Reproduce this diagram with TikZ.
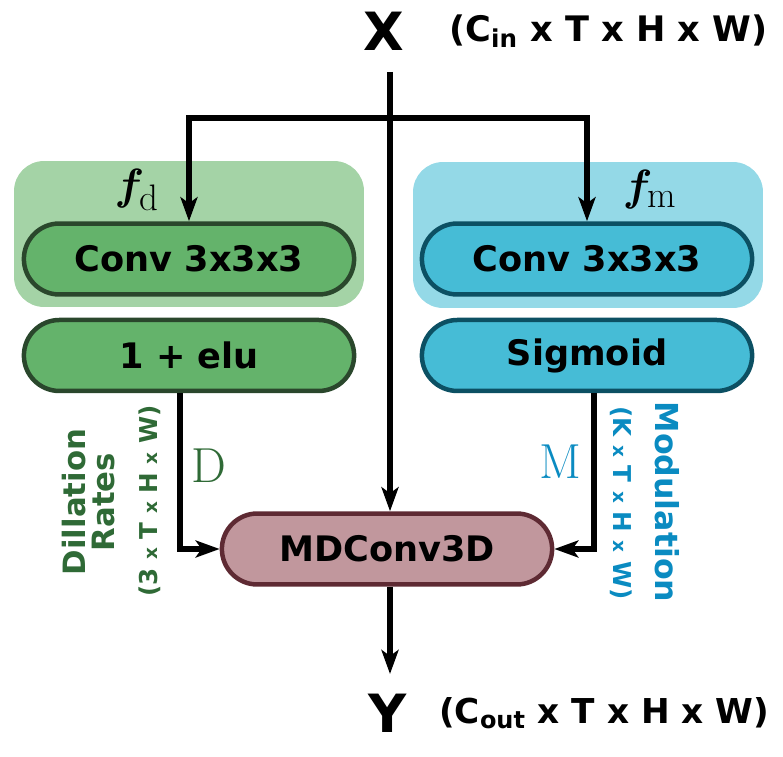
\documentclass[tikz,border=0pt]{standalone}
\usepackage{amsmath, amssymb}
\usepackage{bm}
\usepackage{fontspec}
\setsansfont{DejaVu Sans}
\usetikzlibrary{arrows.meta, positioning, shapes.misc}
\definecolor{dpanel}{HTML}{A4D3A6}
\definecolor{dfill}{HTML}{64B36B}
\definecolor{dline}{HTML}{2A472C}
\definecolor{dtext}{HTML}{2F6A36}
\definecolor{mpanel}{HTML}{94D9E7}
\definecolor{mfill}{HTML}{46BCD6}
\definecolor{mline}{HTML}{0C5063}
\definecolor{mtext}{HTML}{0A8BC1}
\definecolor{mdfill}{HTML}{C1979D}
\definecolor{mdline}{HTML}{5E2A33}
\newcommand{\blockfont}{\sffamily\bfseries\fontsize{20}{24}\selectfont}
\newcommand{\sx}{{\fontsize{10.5}{11}\selectfont x}}

\begin{document}
\begin{tikzpicture}[
    x=0.02cm, y=-0.02cm,
    node distance=0.42cm,
    panel/.style={rectangle, rounded corners=0.6cm, minimum width=7cm, minimum height=2.92cm},
    layer/.style={rounded rectangle, draw, line width=0.09cm, minimum width=6.84cm, minimum height=1.42cm, font=\blockfont},
    arrow/.style={-{Stealth[length=0.48cm, width=0.34cm, inset=0.12cm]}, line width=0.11cm}
]
    \useasboundingbox (0,0) rectangle (783,756);

    % input / output
    \node[font=\sffamily\bfseries\fontsize{30}{32}\selectfont] (X) at (384,31) {X};
    \node[anchor=west, font=\sffamily\bfseries\fontsize{20}{24}\selectfont] (xdim) at (443,31) {(C\textsubscript{in} x T x H x W)};
    \node[font=\sffamily\bfseries\fontsize{30}{32}\selectfont] (Y) at (388,713) {Y};
    \node[anchor=west, font=\sffamily\bfseries\fontsize{19.5}{24}\selectfont] (ydim) at (433,713) {(C\textsubscript{out} x T x H x W)};

    % background panels
    \node[panel, fill=dpanel] (pd) at (189,234) {};
    \node[panel, fill=mpanel] (pm) at (588,235) {};

    % layers
    \node[layer, fill=dfill, draw=dline] (convd) at (189,259) {Conv 3x3x3};
    \node[layer, fill=dfill, draw=dline, below=of convd] (elu) {1 + elu};
    \node[layer, fill=mfill, draw=mline] (convm) at (587,259) {Conv 3x3x3};
    \node[layer, fill=mfill, draw=mline, below=of convm] (sig) {Sigmoid};
    \node[layer, fill=mdfill, draw=mdline] (mdconv) at (387,549) {MDConv3D};

    \node[font=\fontsize{30}{32}\selectfont] (fd) at (137,190) {$\bm{f}_{\mathrm{d}}$};
    \node[font=\fontsize{30}{32}\selectfont] (fm) at (650,190) {$\bm{f}_{\mathrm{m}}$};

    % arrows
    \coordinate (top) at (390,72);
    \coordinate (split) at (390,118);
    \coordinate (yout) at (390,674);
    \draw[arrow] (top) -- (top |- mdconv.north);
    \draw[arrow] (split) -| (convd.north);
    \draw[arrow] (split) -| (convm.north);
    \draw[arrow] ([xshift=-0.18cm]elu.south) |- (mdconv.west);
    \draw[arrow] ([xshift=0.14cm]sig.south) |- (mdconv.east);
    \draw[arrow] (mdconv.south -| top) -- (yout);

    % labels
    \node[text=dtext, font=\fontsize{28}{30}\selectfont] (dlab) at (209,466) {D};
    \node[text=mtext, font=\fontsize{28}{30}\selectfont] (mlab) at (560,462) {M};
    \node[rotate=90, align=center, text=dtext, font=\sffamily\bfseries\fontsize{17.5}{16.5}\selectfont] (drate) at (89,502) {Dillation\\Rates};
    \node[rotate=90, text=dtext, font=\sffamily\bfseries\fontsize{14}{15}\selectfont] (ddim) at (150,501) {(3 \sx{} T \sx{} H \sx{} W)};
    \node[rotate=-90, text=mtext, font=\sffamily\bfseries\fontsize{18}{16.5}\selectfont] (mod) at (667,502) {Modulation};
    \node[rotate=-90, text=mtext, font=\sffamily\bfseries\fontsize{14}{15}\selectfont] (mdim) at (621,503) {(K \sx{} T \sx{} H \sx{} W)};
\end{tikzpicture}
\end{document}
